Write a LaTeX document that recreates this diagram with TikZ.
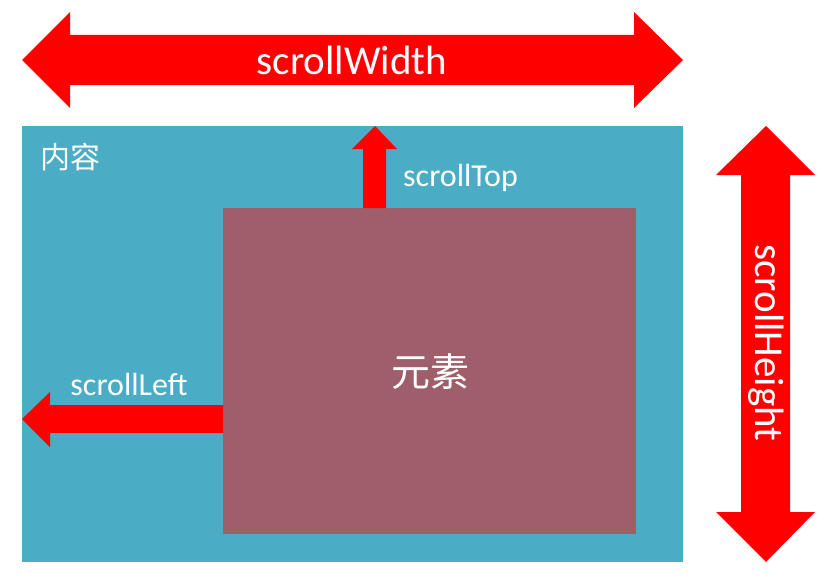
\documentclass[tikz,border=0pt]{standalone}
\usepackage{fontspec}
\setmainfont{Carlito}
\newfontfamily\cjkfont{Noto Sans CJK SC}
\usetikzlibrary{positioning,calc}

\definecolor{contentblue}{HTML}{4BACC6}
\definecolor{elemred}{HTML}{9E5E6A}

\begin{document}
\begin{tikzpicture}[
  x=1pt, y=-1pt,
  box/.style={draw=none, inner sep=0pt, anchor=north west},
  bigarrow/.style={fill=red, draw=none},
  lbl/.style={text=white, inner sep=0pt, font=\fontsize{32}{36}\selectfont},
  biglbl/.style={lbl, font=\fontsize{41}{45}\selectfont},
  cjk/.style={text=white, inner sep=0pt},
]
\useasboundingbox (0,0) rectangle (834,586);

% content area and element
\node[box, fill=contentblue, minimum width=661pt, minimum height=436pt] (content) at (22,126) {};
\node[box, fill=elemred, minimum width=413pt, minimum height=326pt] (elem) at (223,208) {};
\node[cjk, font=\cjkfont\fontsize{30}{33}\selectfont, anchor=west] (contentlbl) at (40,157) {内容};
\node[cjk, font=\cjkfont\fontsize{39}{43}\selectfont] (elemlbl) at (430,372) {元素};

% scrollWidth (double arrow on top)
\fill[bigarrow] (22,60) -- (70,12) -- (70,35) -- (634,35) -- (634,12) -- (683,60)
  -- (634,108) -- (634,85) -- (70,85) -- (70,108) -- cycle;
\node[biglbl] (wlbl) at (352,60) {scrollWidth};

% scrollHeight (double arrow on the right)
\fill[bigarrow] (766,126) -- (815,175) -- (790,175) -- (790,512) -- (815,512) -- (766,562)
  -- (716,512) -- (741,512) -- (741,175) -- (716,175) -- cycle;
\node[biglbl, rotate=-90] (hlbl) at (766,343) {scrollHeight};

% scrollTop (up from the element)
\fill[bigarrow] (363,208) -- (363,149) -- (352,149) -- (375,126) -- (397,149)
  -- (386,149) -- (386,208) -- cycle;
\node[lbl, anchor=west] (toplbl) at (403,178) {scrollTop};

% scrollLeft (left from the element)
\fill[bigarrow] (223,405) -- (50,405) -- (50,392) -- (22,419) -- (50,447) -- (50,433)
  -- (223,433) -- cycle;
\node[lbl] (leftlbl) at (129,385) {scrollLeft};
\end{tikzpicture}
\end{document}
